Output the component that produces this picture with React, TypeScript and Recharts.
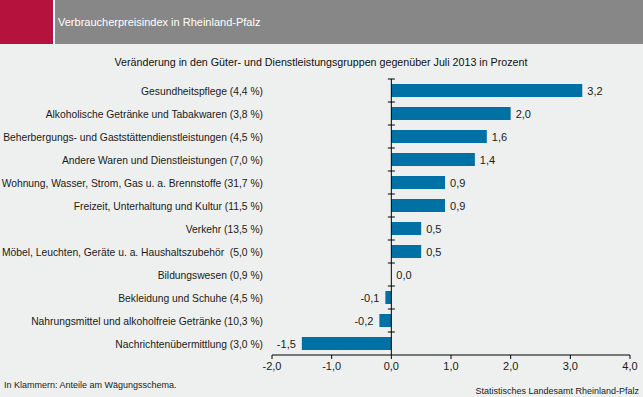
import React from 'react';
import { BarChart, Bar, XAxis, YAxis, ReferenceLine } from 'recharts';

const categories = [
  'Gesundheitspflege (4,4 %)',
  'Alkoholische Getränke und Tabakwaren (3,8 %)',
  'Beherbergungs- und Gaststättendienstleistungen (4,5 %)',
  'Andere Waren und Dienstleistungen (7,0 %)',
  'Wohnung, Wasser, Strom, Gas u. a. Brennstoffe (31,7 %)',
  'Freizeit, Unterhaltung und Kultur (11,5 %)',
  'Verkehr (13,5 %)',
  'Möbel, Leuchten, Geräte u. a. Haushaltszubehör\u00a0 (5,0 %)',
  'Bildungswesen (0,9 %)',
  'Bekleidung und Schuhe (4,5 %)',
  'Nahrungsmittel und alkoholfreie Getränke (10,3 %)',
  'Nachrichtenübermittlung (3,0 %)',
];
const values = [3.2, 2.0, 1.6, 1.4, 0.9, 0.9, 0.5, 0.5, 0.0, -0.1, -0.2, -1.5];
const xTicks = [-2, -1, 0, 1, 2, 3, 4];

const data = categories.map((name, i) => ({ name, value: values[i] }));

const W = 643;
const H = 397;
const PLOT_LEFT = 272;
const PLOT_RIGHT = 630;
const PLOT_TOP = 79;
const PLOT_BOTTOM = 355;
const DOMAIN: [number, number] = [-2, 4];
const ZERO_X = PLOT_LEFT + ((0 - DOMAIN[0]) / (DOMAIN[1] - DOMAIN[0])) * (PLOT_RIGHT - PLOT_LEFT);
const BAND = (PLOT_BOTTOM - PLOT_TOP) / categories.length;

const FONT = '"Liberation Sans", Arial, sans-serif';
const BAR_COLOR = '#0071a4';
const fmt = (v: number) => v.toFixed(1).replace('.', ',');

const CategoryTick = (props: any) => {
  const { x, y, payload } = props;
  return (
    <g>
      <text x={x} y={y} dy={4} textAnchor="end" fontSize={10.3} fontFamily={FONT} fill="#1a1a1a">
        {payload.value}
      </text>
      <line x1={ZERO_X - 3.5} x2={ZERO_X + 3.5} y1={y - BAND / 2} y2={y - BAND / 2} stroke="#000" strokeWidth={1} />
    </g>
  );
};

const BarWithLabel = (props: any) => {
  const { x, y, width, height, value, payload } = props;
  const v = typeof value === 'number' ? value : Array.isArray(value) ? value[1] - value[0] : payload?.value;
  const w = Number(width) || 0;
  const left = Math.min(x, x + w);
  const right = Math.max(x, x + w);
  const cy = y + height / 2 + 4;
  const val = payload && typeof payload.value === 'number' ? payload.value : v;
  return (
    <g>
      {Math.abs(w) > 0 && <rect x={left} y={y} width={Math.abs(w)} height={height} fill={BAR_COLOR} />}
      {val < 0 ? (
        <text x={left - 6} y={cy} textAnchor="end" fontSize={11} fontFamily={FONT} fill="#1a1a1a">
          {fmt(val)}
        </text>
      ) : (
        <text x={right + 5} y={cy} textAnchor="start" fontSize={11} fontFamily={FONT} fill="#1a1a1a">
          {fmt(val)}
        </text>
      )}
    </g>
  );
};

export default function App() {
  return (
    <div style={{ position: 'absolute', left: 0, top: 0, width: W, height: H, background: '#eef0ef', fontFamily: FONT, overflow: 'hidden' }}>
      <div style={{ position: 'absolute', left: 0, top: 0, width: 53, height: 44, background: '#b5123e' }} />
      <div style={{ position: 'absolute', left: 53, top: 0, width: 2, height: 44, background: '#ffffff' }} />
      <div style={{ position: 'absolute', left: 55, top: 0, width: W - 55, height: 44, background: '#878787' }} />
      <div style={{ position: 'absolute', left: 58, top: 15, fontSize: 11, lineHeight: '14px', color: '#ffffff', whiteSpace: 'nowrap' }}>
        Verbraucherpreisindex in Rheinland-Pfalz
      </div>
      <div style={{ position: 'absolute', left: 0, top: 55, width: W - 1, textAlign: 'center', fontSize: 10.7, lineHeight: '14px', color: '#111', whiteSpace: 'nowrap' }}>
        Veränderung in den Güter- und Dienstleistungsgruppen gegenüber Juli 2013 in Prozent
      </div>
      <div style={{ position: 'absolute', left: 0, top: 0 }}>
        <BarChart
          width={W}
          height={H}
          data={data}
          layout="vertical"
          margin={{ top: PLOT_TOP, right: W - PLOT_RIGHT, bottom: H - PLOT_BOTTOM - 20, left: 0 }}
          barSize={13}
        >
          <XAxis
            type="number"
            domain={DOMAIN}
            ticks={xTicks}
            tickFormatter={fmt}
            axisLine={{ stroke: '#000' }}
            tickLine={{ stroke: '#000' }}
            tickSize={4}
            tickMargin={3}
            height={20}
            interval={0}
            tick={{ fontSize: 11, fontFamily: FONT, fill: '#1a1a1a' }}
            allowDataOverflow
          />
          <YAxis
            type="category"
            dataKey="name"
            width={PLOT_LEFT}
            axisLine={false}
            tickLine={false}
            tickSize={0}
            tickMargin={9}
            interval={0}
            tick={<CategoryTick />}
          />
          <Bar dataKey="value" fill={BAR_COLOR} isAnimationActive={false} shape={<BarWithLabel />} />
          <ReferenceLine x={0} stroke="#000" strokeWidth={1} />
        </BarChart>
      </div>
      <div style={{ position: 'absolute', left: 4, top: 379, fontSize: 9, lineHeight: '12px', color: '#1a1a1a', whiteSpace: 'nowrap' }}>
        In Klammern: Anteile am Wägungsschema.
      </div>
      <div style={{ position: 'absolute', right: 4, top: 385, fontSize: 9, lineHeight: '12px', color: '#1a1a1a', whiteSpace: 'nowrap' }}>
        Statistisches Landesamt Rheinland-Pfalz
      </div>
    </div>
  );
}
